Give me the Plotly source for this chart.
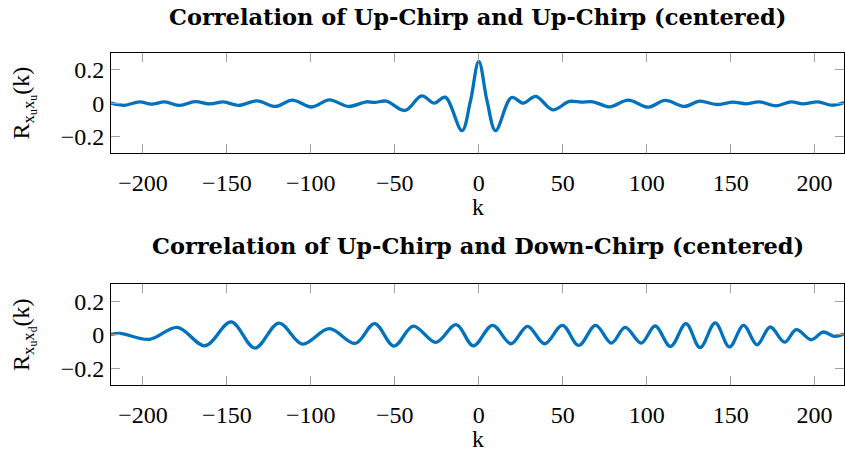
import plotly.graph_objects as go

# Up-chirp / up-chirp correlation
k_uu = [-219, -211, -202, -195, -187, -178, -169, -160, -152, -143, -132, -121, -111, -99.5, -89,
        -77.5, -67, -62, -55, -44, -34, -26.5, -20, -10, -5, 0, 5, 10, 19.5, 26.5, 34, 44, 54,
        61, 68, 78, 89, 101, 111, 122.5, 131.5, 141.5, 151.5, 159, 167, 177, 186, 193, 202, 210, 217.5]
r_uu = [0.0, -0.013, 0.008, -0.006, 0.007, -0.014, 0.009, -0.005, 0.007, -0.013, 0.014, -0.02, 0.018,
        -0.023, 0.02, -0.02, 0.008, 0.004, 0.012, -0.044, 0.043, 0.0, 0.036, -0.165, 0.01, 0.25, 0.01,
        -0.165, 0.034, 0.0, 0.04, -0.04, 0.01, 0.006, 0.008, -0.022, 0.018, -0.024, 0.016, -0.02, 0.012,
        -0.008, 0.006, -0.004, 0.008, -0.016, 0.008, -0.004, 0.008, -0.012, 0.004]

# Up-chirp / down-chirp correlation
k_ud = [-219, -213.5, -196, -179.5, -163, -147.5, -133.3, -119, -105, -89, -73.5, -62, -50.5, -39,
        -25.5, -13.5, -3.2, 8.2, 19.2, 29, 39.3, 49.8, 59.5, 69.6, 79, 87.2, 96.8, 105, 114.2, 123.4,
        131.8, 140.8, 149.3, 157.7, 165.7, 173.6, 182.1, 189.1, 198, 205, 212, 217.5]
r_ud = [0.002, 0.008, -0.028, 0.044, -0.066, 0.076, -0.08, 0.069, -0.056, 0.036, -0.052, 0.066, -0.068,
        0.051, -0.046, 0.06, -0.066, 0.056, -0.054, 0.05, -0.054, 0.056, -0.064, 0.056, -0.05, 0.044,
        -0.05, 0.052, -0.07, 0.066, -0.077, 0.07, -0.073, 0.056, -0.06, 0.046, -0.044, 0.03, -0.03,
        0.016, -0.01, 0.004]

x_ticks = [-200, -150, -100, -50, 0, 50, 100, 150, 200]
x_ticktext = ["\u2212200", "\u2212150", "\u2212100", "\u221250", "0", "50", "100", "150", "200"]
y_ticks = [-0.2, 0, 0.2]
y_ticktext = ["\u22120.2", "0", "0.2"]

titles = ["Correlation of Up-Chirp and Up-Chirp (centered)",
          "Correlation of Up-Chirp and Down-Chirp (centered)"]
ylabels = ["R<sub>x<sub>u</sub>x<sub>u</sub></sub>(k)", "R<sub>x<sub>u</sub>x<sub>d</sub></sub>(k)"]
xlabel = "k"

FONT = "Liberation Serif"
TFONT = "DejaVu Serif"
BLUE = "#0072BD"
FS = 24
TOP_DOM = [0.698, 1]
BOT_DOM = [0, 0.303]

fig = go.Figure()
fig.add_trace(go.Scatter(x=k_uu, y=r_uu, mode="lines",
                         line=dict(color=BLUE, width=3.3, shape="spline", smoothing=1.0),
                         xaxis="x", yaxis="y", showlegend=False))
fig.add_trace(go.Scatter(x=k_ud, y=r_ud, mode="lines",
                         line=dict(color=BLUE, width=3.3, shape="spline", smoothing=1.0),
                         xaxis="x2", yaxis="y2", showlegend=False))

axcommon = dict(showline=True, linecolor="black", linewidth=1, mirror="ticks", ticks="inside",
                ticklen=9, tickcolor="#a0a0a0", tickwidth=1, showgrid=False, zeroline=False,
                automargin=False, tickfont=dict(family=FONT, size=FS, color="black"))

xa = dict(axcommon, range=[-219, 217.5], tickvals=x_ticks, ticktext=x_ticktext, ticklabelstandoff=8)
ya = dict(axcommon, range=[-0.3, 0.3], tickvals=y_ticks, ticktext=y_ticktext, ticklabelstandoff=1)

ann = []
for dom, ttl, ysh in ((TOP_DOM, titles[0], 36), (BOT_DOM, titles[1], 38)):
    ann.append(dict(text="<b>" + ttl + "</b>", x=0.5, y=dom[1], xref="paper", yref="paper", yshift=ysh,
                    yanchor="middle", showarrow=False, font=dict(family=TFONT, size=22.5, color="black")))
    ann.append(dict(text=xlabel, x=0.5, y=dom[0], xref="paper", yref="paper", yshift=-54,
                    yanchor="middle", showarrow=False, font=dict(family=FONT, size=FS, color="black")))

fig.update_layout(
    width=845, height=451,
    margin=dict(l=111, r=1, t=53, b=66),
    paper_bgcolor="white", plot_bgcolor="white",
    xaxis=dict(xa, domain=[0, 1], anchor="y"),
    yaxis=dict(ya, domain=TOP_DOM, anchor="x",
               title=dict(text=ylabels[0], font=dict(family=FONT, size=FS, color="black"), standoff=24)),
    xaxis2=dict(xa, domain=[0, 1], anchor="y2"),
    yaxis2=dict(ya, domain=BOT_DOM, anchor="x2",
                title=dict(text=ylabels[1], font=dict(family=FONT, size=FS, color="black"), standoff=24)),
    annotations=ann,
)

fig.write_html("out.html", config={"displayModeBar": False},
               post_script="document.body.style.margin='0';")
